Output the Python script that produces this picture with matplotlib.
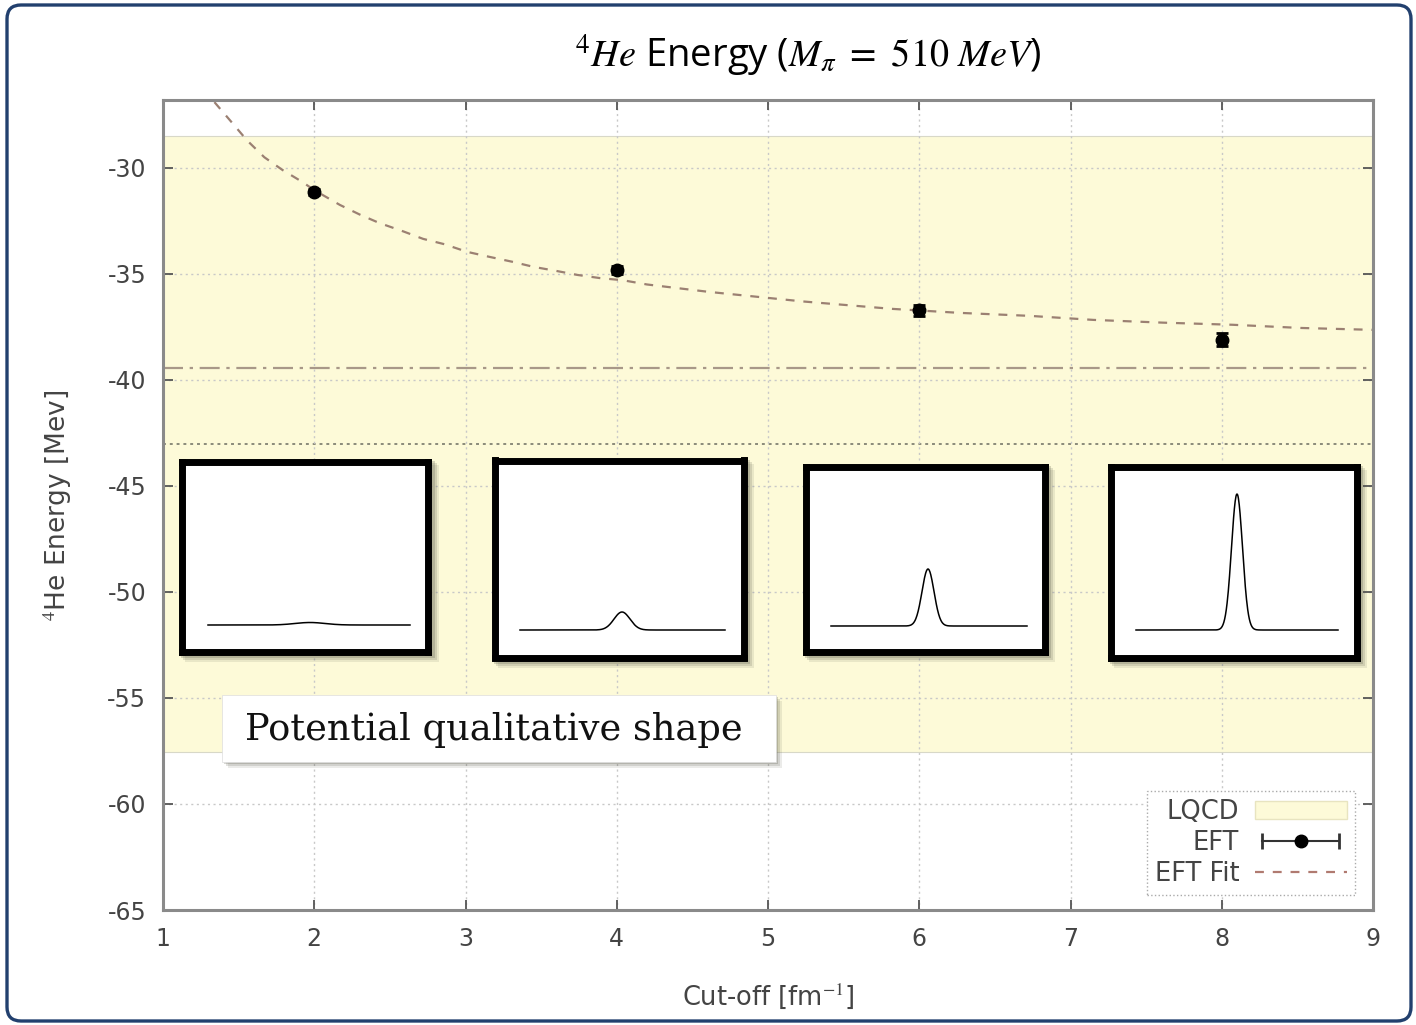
import numpy as np
import matplotlib.pyplot as plt
from matplotlib.patches import Rectangle, FancyBboxPatch, Patch
from matplotlib.lines import Line2D
from matplotlib.legend_handler import HandlerLine2D

plt.rcParams['mathtext.fontset'] = 'stix'
plt.rcParams['font.family'] = ['DejaVu Sans']
plt.rcParams['axes.unicode_minus'] = False

# EFT points (cut-off in fm^-1, energy in MeV)
cutoff = [2, 4, 6, 8]
energy = [-31.13, -34.81, -36.72, -38.11]
energy_err = [0.15, 0.2, 0.25, 0.3]

# EFT fit curve
fit_x = [1.34, 1.46, 1.555, 1.67, 1.79, 1.92, 2.0, 2.17, 2.30, 2.43, 2.59, 2.72, 2.86, 3.01,
         3.16, 3.31, 3.45, 3.60, 3.74, 3.89, 4.04, 4.2, 4.61, 5.23, 5.82, 6.27, 6.73,
         7.15, 7.61, 8.07, 8.52, 9.0]
fit_y = [-26.9, -27.9, -28.7, -29.5, -30.1, -30.66, -31.05, -31.75, -32.2, -32.6, -33.0, -33.35,
         -33.6, -33.96, -34.2, -34.43, -34.67, -34.86, -35.05, -35.2, -35.3, -35.5, -35.85,
         -36.3, -36.65, -36.84, -36.98, -37.17, -37.3, -37.4, -37.55, -37.64]

# LQCD band
lqcd_low = -57.55
lqcd_high = -28.5
lqcd_mid = -43.0
fit_limit = -39.45

# qualitative potential shapes (peak height / width in pixels of each inset)
peak_height = [2.5, 18, 57, 136]
peak_width = [15, 8, 6, 5.5]

W, H = 1416, 1025
fig = plt.figure(figsize=(W / 100, H / 100), dpi=100)

def px_rect(x0, y0, x1, y1):
    return [x0 / W, 1 - y1 / H, (x1 - x0) / W, (y1 - y0) / H]

# background layer: slide frame + title
bg = fig.add_axes([0, 0, 1, 1])
bg.set_xlim(0, W)
bg.set_ylim(H, 0)
bg.axis('off')
bg.add_patch(FancyBboxPatch((7, 5), 1404, 1016, boxstyle='round,pad=0,rounding_size=14',
                            fc='white', ec='#22406e', lw=2.4))
bg.text(808, 55, r'$^4He$' + ' Energy (' + r'$M_\pi\ =\ 510\ MeV$' + ')',
        ha='center', va='center', fontsize=27.5, family='Open Sans', color='black')

# main plot
ax = fig.add_axes(px_rect(163, 100, 1373, 910))
ax.axhspan(lqcd_low, lqcd_high, color='#fdfad8', ec='#d8d8c8', lw=0.8, zorder=0)
ax.axhline(fit_limit, color='#a89888', lw=1.6, ls=(0, (9, 3, 1.5, 3)), zorder=1)
ax.axhline(lqcd_mid, color='#8a8a7a', lw=1.4, ls=(0, (1.5, 2)), zorder=1)
ax.plot(fit_x, fit_y, color='#9b8072', lw=1.6, ls=(0, (4, 4)), zorder=2)
ax.errorbar(cutoff, energy, yerr=energy_err, fmt='o', ms=9, color='black',
            capsize=4.5, capthick=2, elinewidth=1.5, zorder=3)

ax.set_xlim(1, 9)
ax.set_ylim(-65, -26.8)
ax.set_xticks(range(1, 10))
ax.set_yticks(range(-65, -29, 5))
ax.grid(True, color='#c8c8c8', ls=(0, (1.5, 2.5)), lw=1)
ax.tick_params(direction='in', length=7, width=1.3, top=True, right=True,
               labelsize=17, labelcolor='#444444', color='#555555', pad=12)
for s in ax.spines.values():
    s.set_color('#8a8a8a')
    s.set_linewidth(2.2)
ax.set_xlabel('Cut-off [fm$^{-1}$]', fontsize=18.5, color='#444444', labelpad=22)
ax.set_ylabel('$^4$He Energy [Mev]', fontsize=19, color='#444444', labelpad=24)

cap_line = Line2D([], [], color='#333333', lw=1.5, marker='|', ms=11, mew=2)
dot = Line2D([], [], color='black', marker='o', ms=9, ls='none')
h_lqcd = Patch(fc='#fdfad8', ec='#e8e4c0')
h_fit = Line2D([], [], color='#b07a70', lw=1.6, ls=(0, (4, 4)))
leg = ax.legend([h_lqcd, (cap_line, dot), h_fit], ['LQCD', 'EFT', 'EFT Fit'],
                handler_map={cap_line: HandlerLine2D(numpoints=2), dot: HandlerLine2D(numpoints=1)},
                loc='lower right', bbox_to_anchor=(0.985, 0.0185), borderaxespad=0,
                markerfirst=False, fontsize=18.5, fancybox=False, framealpha=1,
                handlelength=3.6, labelspacing=0.2, borderpad=0.3, handletextpad=0.6)
leg.get_frame().set_edgecolor('#aaaaaa')
leg.get_frame().set_linestyle(':')
for t in leg.get_texts():
    t.set_color('#444444')

# overlay: shadows and text box
ov = fig.add_axes([0, 0, 1, 1])
ov.set_xlim(0, W)
ov.set_ylim(H, 0)
ov.axis('off')
ov.patch.set_alpha(0)

boxes = [(178, 458, 432, 655), (491, 457, 747, 661), (802, 463, 1048, 655), (1107, 463, 1360, 661)]
baselines = [(208, 410, 310, 625), (520, 725, 622, 630), (831, 1027, 928, 626), (1136, 1338, 1237, 630)]

for (x0, y0, x1, y1) in boxes:
    for k, a in [(7, 0.12), (5, 0.18), (3, 0.25)]:
        ov.add_patch(Rectangle((x0 + k, y0 + k), x1 - x0, y1 - y0, fc='#606050', ec='none', alpha=a))

tb = (222, 695, 776, 762)
for k, a in [(6, 0.12), (4, 0.18), (2, 0.25)]:
    ov.add_patch(Rectangle((tb[0] + k, tb[1] + k), tb[2] - tb[0], tb[3] - tb[1], fc='#606050', ec='none', alpha=a))
ov.add_patch(Rectangle((tb[0], tb[1]), tb[2] - tb[0], tb[3] - tb[1], fc='white', ec='#dddddd', lw=0.5))
ov.text(245, 730, 'Potential qualitative shape', ha='left', va='center', fontsize=26.5,
        family='DejaVu Serif', color='#111111')

# insets with peaks
for i, (x0, y0, x1, y1) in enumerate(boxes):
    ia = fig.add_axes(px_rect(x0 + 3.5, y0 + 3.5, x1 - 3.5, y1 - 3.5))
    ia.set_xlim(x0 + 3.5, x1 - 3.5)
    ia.set_ylim(y1 - 3.5, y0 + 3.5)
    ia.set_xticks([])
    ia.set_yticks([])
    for s in ia.spines.values():
        s.set_linewidth(5.0)
        s.set_color('black')
    a, b, c, base = baselines[i]
    xx = np.linspace(a, b, 500)
    yy = base - peak_height[i] * np.exp(-(xx - c) ** 2 / (2 * peak_width[i] ** 2))
    ia.plot(xx, yy, color='black', lw=1.1)

fig.savefig('out.png', dpi=100)
